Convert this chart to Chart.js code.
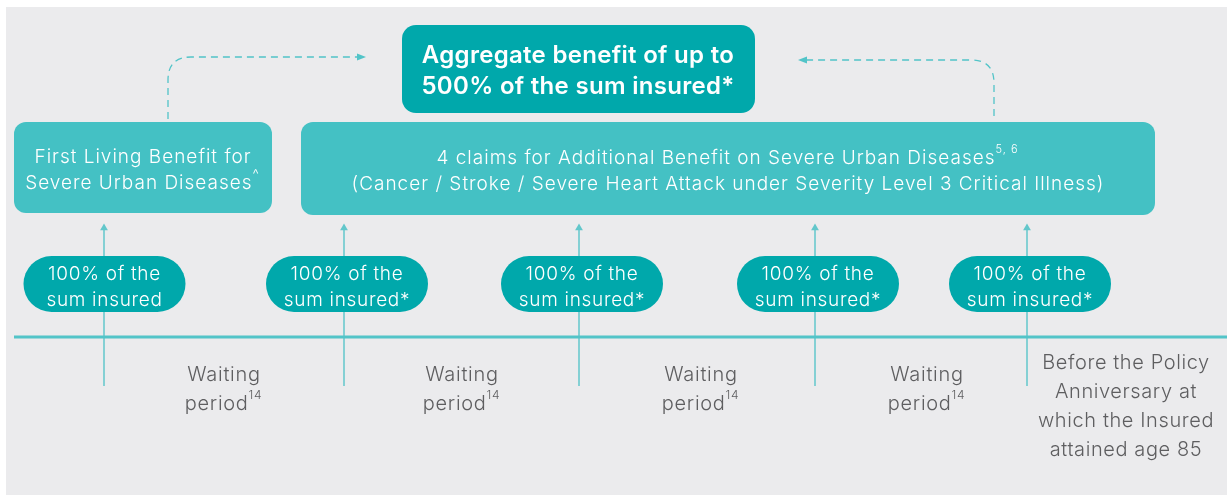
<!DOCTYPE html>
<html>
<head>
<meta charset="utf-8">
<script src="https://cdn.jsdelivr.net/npm/chart.js@4/dist/chart.umd.min.js"></script>
<style>
  html, body { margin: 0; padding: 0; background: #ffffff; }
  #wrap { width: 1227px; height: 495px; position: relative; }
</style>
</head>
<body>
<div id="wrap"><canvas id="benefitChart"></canvas></div>
<script>
// claim events along the policy timeline
const claimPositions = [104, 344, 579, 815, 1027];
const claimLabels = [
  ["100% of the", "sum insured"],
  ["100% of the", "sum insured*"],
  ["100% of the", "sum insured*"],
  ["100% of the", "sum insured*"],
  ["100% of the", "sum insured*"],
];

// waiting periods between claims
const waitingPositions = [224, 462, 701, 927];
const waitingLabels = ["Waiting", "period|14"];

// end of cover
const endPosition = 1126;
const endLabels = ["Before the Policy", "Anniversary at", "which the Insured", "attained age 85"];

// benefit boxes
const firstBenefit = ["First Living Benefit for", "Severe Urban Diseases|^"];
const additionalBenefit = [
  "4 claims for Additional Benefit on Severe Urban Diseases|5, 6",
  "(Cancer / Stroke / Severe Heart Attack under Severity Level 3 Critical Illness)",
];
const aggregateBenefit = ["Aggregate benefit of up to", "500% of the sum insured*"];

const DARK = "#00a8ab";
const LIGHT = "#44c1c4";
const LINE = "#52c4c8";
const GREY_TEXT = "#5e5e60";
const FONT = "Inter, 'Noto Sans', sans-serif";

function roundRect(ctx, x0, y0, x1, y1, r, fill) {
  ctx.beginPath();
  ctx.roundRect(x0, y0, x1 - x0, y1 - y0, r);
  ctx.fillStyle = fill;
  ctx.fill();
}

// draws a line of text; "|" marks the start of a superscript
function textLine(ctx, str, cx, cy, size, weight, color, spacing) {
  const parts = str.split("|");
  ctx.letterSpacing = spacing + "px";
  ctx.font = weight + " " + size + "px " + FONT;
  const w1 = ctx.measureText(parts[0]).width;
  let w2 = 0;
  const supSize = Math.round(size * (parts[1] === "^" ? 0.75 : 0.58));
  if (parts[1]) {
    ctx.font = weight + " " + supSize + "px " + FONT;
    w2 = ctx.measureText(parts[1]).width + 1;
  }
  const left = cx - (w1 + w2) / 2;
  ctx.fillStyle = color;
  ctx.textAlign = "left";
  ctx.textBaseline = "middle";
  ctx.font = weight + " " + size + "px " + FONT;
  ctx.fillText(parts[0], left, cy);
  if (parts[1]) {
    ctx.font = weight + " " + supSize + "px " + FONT;
    ctx.fillText(parts[1], left + w1, cy - size * 0.42);
  }
  ctx.letterSpacing = "0px";
}

function dashedArrow(ctx, pts, dir) {
  ctx.save();
  ctx.strokeStyle = LINE;
  ctx.lineWidth = 1.3;
  ctx.setLineDash([7, 5]);
  ctx.beginPath();
  ctx.moveTo(pts[0][0], pts[0][1]);
  ctx.lineTo(pts[1][0], pts[1][1]);
  ctx.quadraticCurveTo(pts[2][0], pts[2][1], pts[3][0], pts[3][1]);
  ctx.lineTo(pts[4][0], pts[4][1]);
  ctx.stroke();
  ctx.setLineDash([]);
  const tx = pts[5][0], ty = pts[5][1];
  ctx.fillStyle = LINE;
  ctx.beginPath();
  ctx.moveTo(tx, ty);
  ctx.lineTo(tx - dir * 9, ty - 3.5);
  ctx.lineTo(tx - dir * 9, ty + 3.5);
  ctx.closePath();
  ctx.fill();
  ctx.restore();
}

const diagramPlugin = {
  id: "diagram",
  beforeDraw(chart) {
    const ctx = chart.ctx;
    ctx.save();
    ctx.fillStyle = "#ffffff";
    ctx.fillRect(0, 0, chart.width, chart.height);
    ctx.fillStyle = "#ebebed";
    ctx.fillRect(6, 7, chart.width - 6, chart.height - 7);
    ctx.restore();
  },
  beforeDatasetsDraw(chart) {
    const ctx = chart.ctx;
    const X = (v) => chart.scales.x.getPixelForValue(v);
    const Y = (v) => chart.scales.y.getPixelForValue(v);
    ctx.save();
    // dashed links to the aggregate box
    dashedArrow(ctx, [[X(168), Y(119)], [X(168), Y(80)], [X(168), Y(57)], [X(191), Y(57)], [X(357), Y(57)], [X(366), Y(57)]], 1);
    dashedArrow(ctx, [[X(994), Y(116)], [X(994), Y(83)], [X(994), Y(60)], [X(971), Y(60)], [X(807), Y(60)], [X(798), Y(60)]], -1);

    // benefit boxes
    roundRect(ctx, X(14), Y(122), X(272), Y(213), 12, LIGHT);
    firstBenefit.forEach((t, i) => textLine(ctx, t, X(143), Y(157 + i * 26), 19, 300, "#ffffff", 1));
    roundRect(ctx, X(301), Y(122), X(1155), Y(215), 12, LIGHT);
    additionalBenefit.forEach((t, i) => textLine(ctx, t, X(728), Y(158 + i * 26), 19, 300, "#ffffff", 1));
    roundRect(ctx, X(402), Y(25), X(755), Y(113), 14, DARK);
    aggregateBenefit.forEach((t, i) => textLine(ctx, t, X(578), Y(55.5 + i * 31), 24, 600, "#ffffff", 0.3));
    ctx.restore();
  },
  afterDatasetsDraw(chart) {
    const ctx = chart.ctx;
    const X = (v) => chart.scales.x.getPixelForValue(v);
    const Y = (v) => chart.scales.y.getPixelForValue(v);
    ctx.save();
    claimPositions.forEach((p, i) => {
      const off = i === 0 ? 0.5 : 3;
      roundRect(ctx, X(p + off - 81), Y(256), X(p + off + 81), Y(312), 28, DARK);
      claimLabels[i].forEach((t, j) => textLine(ctx, t, X(p + off), Y(274 + j * 26), 19, 300, "#ffffff", 0.7));
    });
    waitingPositions.forEach((p) => {
      waitingLabels.forEach((t, j) => textLine(ctx, t, X(p), Y(375 + j * 29), 20, 300, GREY_TEXT, 0.7));
    });
    endLabels.forEach((t, j) => textLine(ctx, t, X(endPosition), Y(363 + j * 29), 20, 300, GREY_TEXT, 0.6));
    ctx.restore();
  },
};

// one upward arrow per claim, plus the timeline itself
const datasets = [
  {
    label: "timeline",
    data: [{ x: 14, y: 337 }, { x: 1227, y: 337 }],
    showLine: true,
    borderColor: LINE,
    borderWidth: 3,
    pointRadius: 0,
  },
];
claimPositions.forEach((p) => {
  datasets.push({
    label: "claim",
    data: [{ x: p, y: 386 }, { x: p, y: 228 }],
    showLine: true,
    borderColor: "#62c7cb",
    borderWidth: 1.5,
    pointRadius: [0, 4.5],
    pointStyle: "triangle",
    pointBackgroundColor: "#62c7cb",
    pointBorderWidth: 0,
  });
});

new Chart(document.getElementById("benefitChart"), {
  type: "scatter",
  data: { datasets: datasets },
  options: {
    responsive: true,
    maintainAspectRatio: false,
    animation: false,
    layout: { padding: 0, autoPadding: false },
    plugins: { legend: { display: false }, tooltip: { enabled: false } },
    elements: { line: { tension: 0 } },
    scales: {
      x: { type: "linear", min: 0, max: 1227, display: false },
      y: { type: "linear", min: 0, max: 495, reverse: true, display: false },
    },
  },
  plugins: [diagramPlugin],
});
</script>
</body>
</html>
